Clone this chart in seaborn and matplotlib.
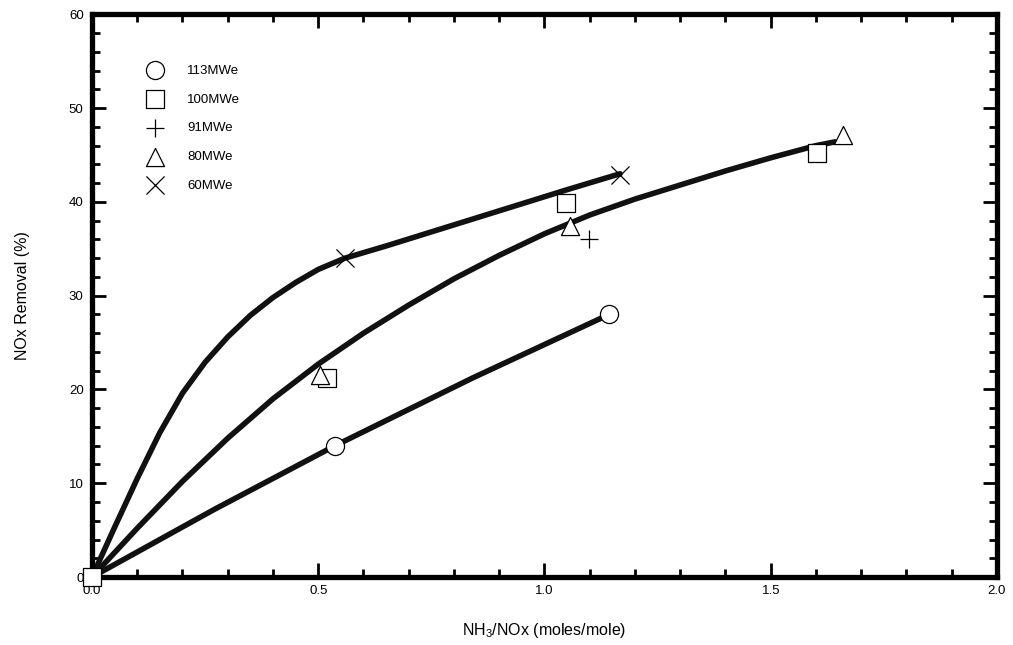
import numpy as np
import pandas as pd
import seaborn as sns
import matplotlib.pyplot as plt
from matplotlib.ticker import MultipleLocator

# ---- data ----
x_113 = [0.537, 1.143]
y_113 = [14.0, 28.0]
x_100 = [0.0, 0.519, 1.047, 1.602]
y_100 = [0.0, 21.2, 39.9, 45.2]
x_91 = [1.098]
y_91 = [36.0]
x_80 = [0.504, 1.056, 1.66]
y_80 = [21.5, 37.4, 47.1]
x_60 = [0.559, 1.167]
y_60 = [34.0, 42.9]

# fitted curves (as drawn)
curve_a_x = [0.0, 0.05, 0.1, 0.15, 0.2, 0.25, 0.3, 0.35, 0.4, 0.45, 0.5, 0.559,
             0.65, 0.75, 0.85, 0.95, 1.05, 1.167]
curve_a_y = [0.0, 5.3, 10.5, 15.4, 19.6, 22.9, 25.6, 27.9, 29.8, 31.4, 32.8, 34.0,
             35.3, 36.8, 38.3, 39.8, 41.3, 43.0]
curve_b_x = [0.0, 0.1, 0.2, 0.3, 0.4, 0.5, 0.6, 0.7, 0.8, 0.9, 1.0, 1.1, 1.2, 1.3,
             1.4, 1.5, 1.6, 1.642]
curve_b_y = [0.0, 5.2, 10.2, 14.8, 19.0, 22.7, 26.0, 29.0, 31.8, 34.3, 36.6, 38.6,
             40.3, 41.8, 43.3, 44.7, 46.0, 46.4]
curve_c_x = [0.0, 0.27, 0.537, 0.84, 1.143]
curve_c_y = [0.0, 7.2, 14.0, 21.2, 28.0]

series = [
    ("113MWe", x_113, y_113, "o"),
    ("100MWe", x_100, y_100, "s"),
    ("91MWe", x_91, y_91, "+"),
    ("80MWe", x_80, y_80, "^"),
    ("60MWe", x_60, y_60, "x"),
]

sns.set_style("white")
plt.rcParams['font.family'] = ['Liberation Sans', 'DejaVu Sans']
plt.rcParams['mathtext.default'] = 'regular'
plt.rcParams['text.color'] = 'black'
plt.rcParams['axes.labelcolor'] = 'black'

fig = plt.figure(figsize=(10.13, 6.45), dpi=100)
ax = fig.add_axes([0.0908, 0.1054, 0.8934, 0.8724])

for cx, cy in [(curve_a_x, curve_a_y), (curve_b_x, curve_b_y), (curve_c_x, curve_c_y)]:
    df = pd.DataFrame({"x": cx, "y": cy})
    sns.lineplot(data=df, x="x", y="y", sort=False, estimator=None, color="#111111",
                 linewidth=4.0, ax=ax, zorder=2)
for line in ax.get_lines():
    line.set_solid_joinstyle("round")

for name, xs, ys, m in series:
    df = pd.DataFrame({"x": xs, "y": ys})
    if m in ["+", "x"]:
        sns.scatterplot(data=df, x="x", y="y", marker=m, s=170, color="black",
                        linewidth=0.9, ax=ax, label=name, zorder=3, clip_on=False)
    else:
        sns.scatterplot(data=df, x="x", y="y", marker=m, s=170, facecolor="white",
                        edgecolor="black", linewidth=0.9, ax=ax, label=name, zorder=3,
                        clip_on=False)

ax.set_xlim(0, 2.0)
ax.set_ylim(0, 60)
ax.xaxis.set_major_locator(MultipleLocator(0.5))
ax.xaxis.set_minor_locator(MultipleLocator(0.1))
ax.yaxis.set_major_locator(MultipleLocator(10))
ax.yaxis.set_minor_locator(MultipleLocator(2))
ax.xaxis.set_major_formatter(plt.FuncFormatter(lambda v, p: f"{v:.1f}"))
ax.tick_params(which="both", direction="in", top=True, right=True, left=True,
               bottom=True, colors="black", labelsize=9.5, width=2.0)
ax.tick_params(which="major", length=10, pad=6)
ax.tick_params(which="minor", length=6)
for s in ax.spines.values():
    s.set_linewidth(3.8)
    s.set_color("black")

ax.set_xlabel(r"NH$_3$/NOx (moles/mole)", fontsize=11.5, labelpad=17)
ax.set_ylabel("NOx Removal (%)", fontsize=11.5, labelpad=28)

ax.legend(loc="upper left", bbox_to_anchor=(0.049, 0.92), frameon=False,
          fontsize=9.5, labelspacing=1.25, handletextpad=1.45, borderaxespad=0)

fig.savefig("out.png", dpi=100)
